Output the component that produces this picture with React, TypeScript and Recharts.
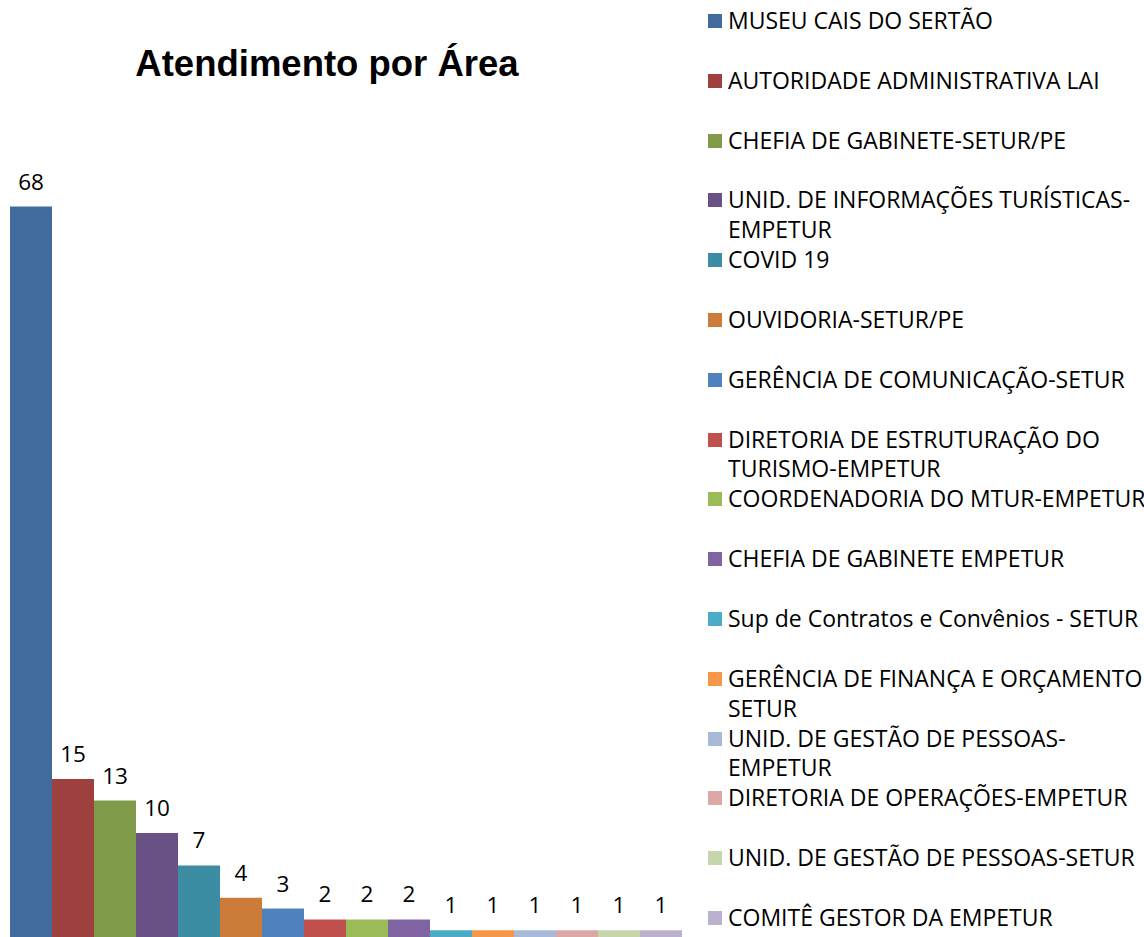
import React from "react";
import { BarChart, Bar, Cell, XAxis, YAxis, LabelList } from "recharts";

const areas = [
  "MUSEU CAIS DO SERTÃO",
  "AUTORIDADE ADMINISTRATIVA LAI",
  "CHEFIA DE GABINETE-SETUR/PE",
  "UNID. DE INFORMAÇÕES TURÍSTICAS-EMPETUR",
  "COVID 19",
  "OUVIDORIA-SETUR/PE",
  "GERÊNCIA DE COMUNICAÇÃO-SETUR",
  "DIRETORIA DE ESTRUTURAÇÃO DO TURISMO-EMPETUR",
  "COORDENADORIA DO MTUR-EMPETUR",
  "CHEFIA DE GABINETE EMPETUR",
  "Sup de Contratos e Convênios - SETUR",
  "GERÊNCIA DE FINANÇA E ORÇAMENTO SETUR",
  "UNID. DE GESTÃO DE PESSOAS-EMPETUR",
  "DIRETORIA DE OPERAÇÕES-EMPETUR",
  "UNID. DE GESTÃO DE PESSOAS-SETUR",
  "COMITÊ GESTOR DA EMPETUR",
];

const atendimentos = [68, 15, 13, 10, 7, 4, 3, 2, 2, 2, 1, 1, 1, 1, 1, 1];

const colors = [
  "#416B9C",
  "#9E413E",
  "#7F9A48",
  "#695185",
  "#3C8DA3",
  "#CC7B38",
  "#4F81BD",
  "#C0504D",
  "#9BBB59",
  "#8064A2",
  "#4BACC6",
  "#F79646",
  "#A9B9D8",
  "#DBA8A7",
  "#C5D6AC",
  "#BBB0CD",
];

const chartData = areas.map((name, i) => ({ name, value: atendimentos[i] }));

const FONT = "'Open Sans', sans-serif";

function LegendList() {
  return (
    <div
      style={{
        position: "absolute",
        left: 708,
        top: 6,
        fontFamily: FONT,
        fontSize: 23,
        lineHeight: "29.8px",
        color: "#000",
      }}
    >
      {areas.map((name, i) => (
        <div key={name} style={{ display: "flex", height: 59.8 }}>
          <div
            style={{
              width: 14,
              height: 14,
              marginTop: 8,
              background: colors[i],
              flex: "none",
            }}
          />
          <div style={{ marginLeft: 6, width: 424 }}>{name}</div>
        </div>
      ))}
    </div>
  );
}

export default function App() {
  return (
    <div
      style={{
        position: "fixed",
        left: 0,
        top: 0,
        width: 1144,
        height: 937,
        overflow: "hidden",
        background: "#fff",
      }}
    >
      <div
        style={{
          position: "absolute",
          left: 127,
          top: 41,
          width: 400,
          textAlign: "center",
          fontFamily: "'Liberation Sans', Arial, sans-serif",
          fontWeight: "bold",
          fontSize: 36.5,
          lineHeight: "46px",
        }}
      >
        Atendimento por Área
      </div>
      <div style={{ position: "absolute", left: 0, top: 0 }}>
        <BarChart
          width={700}
          height={941}
          data={chartData}
          margin={{ top: 77, right: 18, bottom: 0, left: 10 }}
          barCategoryGap={0}
        >
          <XAxis dataKey="name" hide />
          <YAxis hide domain={[0, 80]} />
          <Bar dataKey="value" isAnimationActive={false}>
            {chartData.map((entry, i) => (
              <Cell key={entry.name} fill={colors[i]} />
            ))}
            <LabelList
              dataKey="value"
              position="top"
              offset={17}
              style={{ fontFamily: FONT, fontSize: 22.5, fill: "#000" }}
            />
          </Bar>
        </BarChart>
      </div>
      <LegendList />
    </div>
  );
}
